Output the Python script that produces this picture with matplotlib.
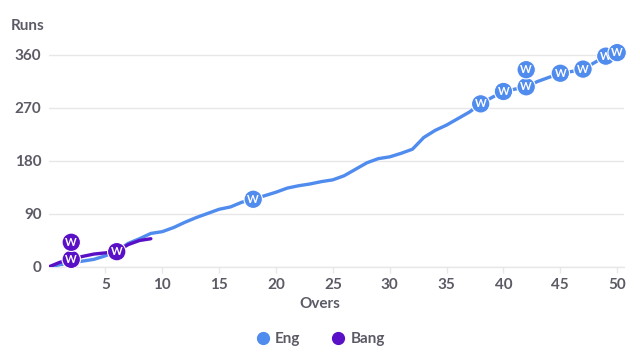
import matplotlib
matplotlib.use('Agg')
import matplotlib.pyplot as plt
from matplotlib.lines import Line2D

# ── data (runs at end of each over) ──
eng_overs = list(range(0, 51))
eng_runs = [0, 4, 7, 10, 13, 19, 27, 40, 48, 57,
            60, 67, 76, 84, 91, 98, 102, 110, 115, 121,
            127, 134, 138, 141, 145, 148, 155, 166, 177, 184,
            187, 193, 200, 220, 232, 241, 252, 263, 277, 288,
            298, 302, 306, 315, 322, 329, 332, 336, 347, 358, 364]
eng_wkt_overs = [18, 38, 40, 42, 42, 45, 47, 49, 50]

bang_overs = list(range(0, 10))
bang_runs = [0, 8, 13, 18, 22, 24, 26, 38, 45, 48]
bang_wkt_overs = [2, 2, 6]

x_ticks = [5, 10, 15, 20, 25, 30, 35, 40, 45, 50]
y_ticks = [0, 90, 180, 270, 360]

ENG = '#508BEE'
BANG = '#5A10C6'
TXT = '#5B5B66'
GRID = '#E7E7EA'
FONT = ['Lato', 'DejaVu Sans']

plt.rcParams['font.family'] = FONT

fig = plt.figure(figsize=(6.4, 3.53), dpi=100)
ax = fig.add_axes([48.5 / 640, 86 / 353, 575.5 / 640, 223.8 / 353])
ax.set_xlim(0, 50.6)
ax.set_ylim(0, 380)

for s in ['top', 'right', 'left']:
    ax.spines[s].set_visible(False)
ax.spines['bottom'].set_color(GRID)
ax.spines['bottom'].set_linewidth(1.0)
ax.set_yticks(y_ticks)
ax.set_xticks(x_ticks)
ax.yaxis.grid(True, color=GRID, linewidth=1.0)
ax.set_axisbelow(True)
ax.tick_params(axis='y', length=0, pad=5, labelsize=11, labelcolor=TXT)
ax.tick_params(axis='x', length=4, width=1, color=GRID, pad=4,
               labelsize=11, labelcolor=TXT)
for lab in ax.get_xticklabels() + ax.get_yticklabels():
    lab.set_fontweight('bold')


def wickets(overs_w, overs, runs, color):
    seen = {}
    for o in overs_w:
        k = seen.get(o, 0)
        seen[o] = k + 1
        r = runs[overs.index(o)]
        ax.annotate('W', (o, r), xytext=(0, 12.3 * k), textcoords='offset points',
                    ha='center', va='center', color='white', fontsize=8,
                    fontweight='bold', zorder=6,
                    bbox=dict(boxstyle='circle,pad=0.3', fc=color, ec='white',
                              lw=0.8))


ax.plot(eng_overs, eng_runs, color=ENG, lw=2.4, solid_capstyle='round',
        solid_joinstyle='round', zorder=3)
ax.plot(bang_overs, bang_runs, color=BANG, lw=2.4, solid_capstyle='round',
        solid_joinstyle='round', zorder=4)
wickets(eng_wkt_overs, eng_overs, eng_runs, ENG)
wickets(bang_wkt_overs, bang_overs, bang_runs, BANG)

fig.text(11 / 640, 1 - 26 / 353, 'Runs', ha='left', va='center',
         fontsize=11, fontweight='bold', color=TXT)
fig.text(320 / 640, 1 - 304 / 353, 'Overs', ha='center', va='center',
         fontsize=11, fontweight='bold', color=TXT)

handles = [Line2D([], [], ls='', marker='o', ms=8.5, color=ENG, label='Eng'),
           Line2D([], [], ls='', marker='o', ms=8.5, color=BANG, label='Bang')]
leg = fig.legend(handles=handles, loc='center', bbox_to_anchor=(0.5, 1 - 339 / 353),
                 ncol=2, frameon=False, handletextpad=0.3, columnspacing=2.0,
                 handlelength=1.0, prop={'size': 11, 'weight': 'bold'})
for t in leg.get_texts():
    t.set_color(TXT)

fig.savefig('out.png', dpi=100)
